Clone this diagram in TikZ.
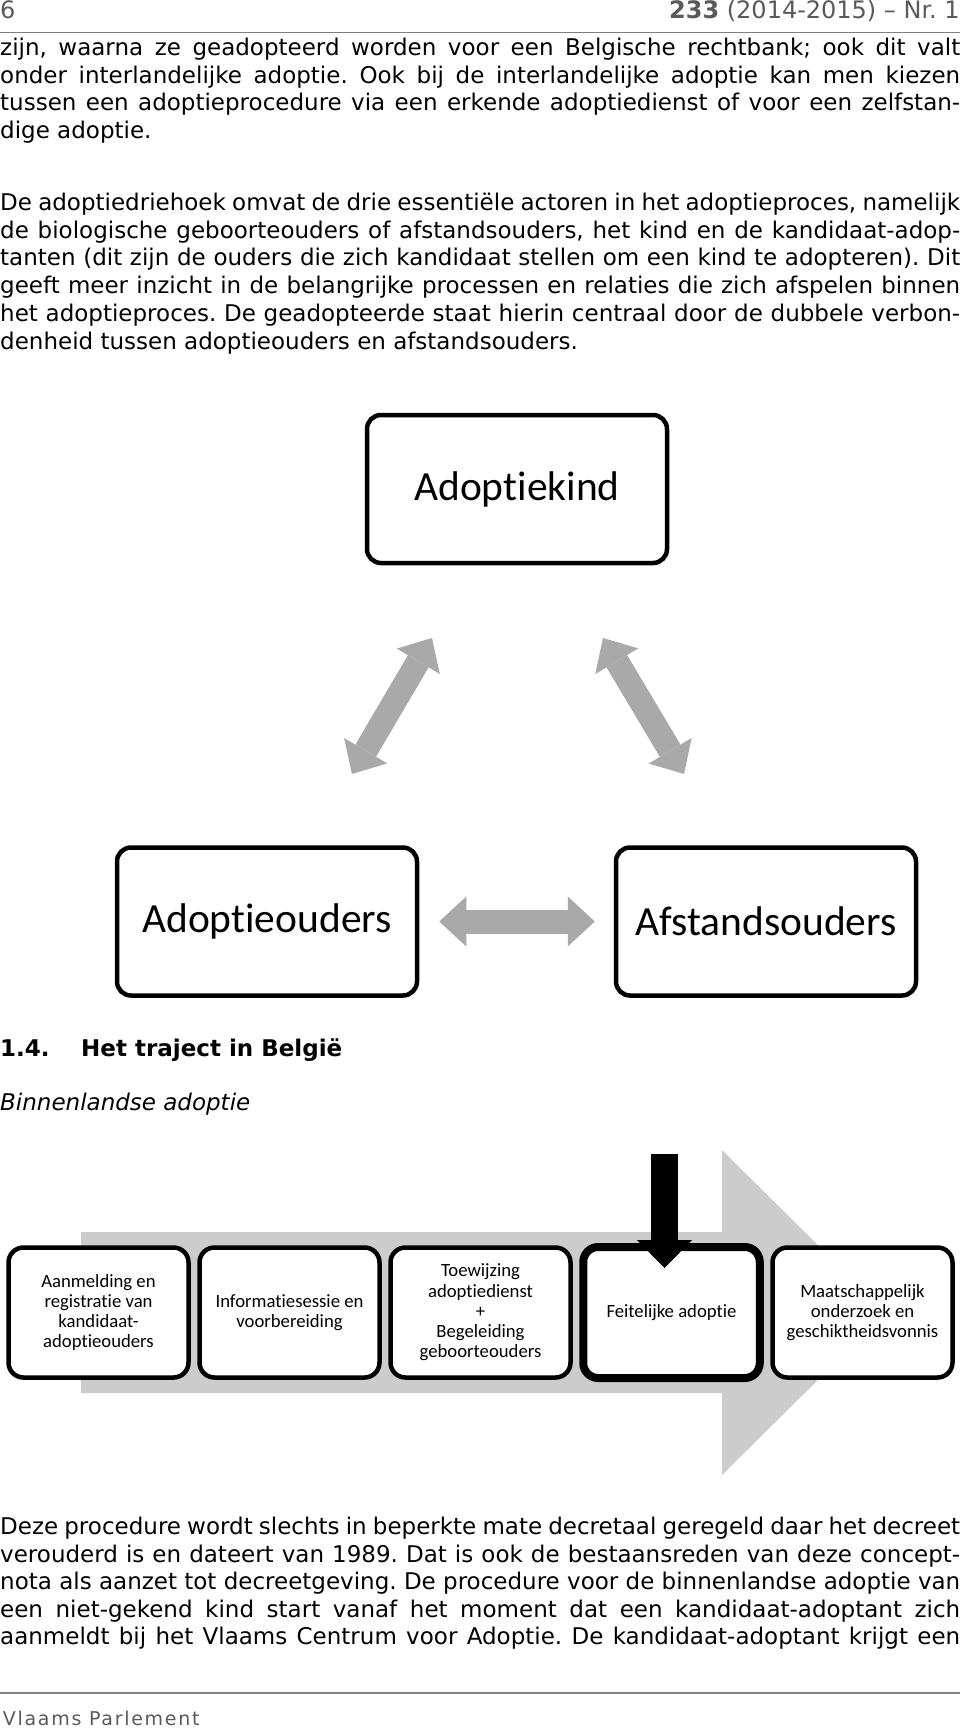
\documentclass[tikz,border=0pt]{standalone}
\usepackage{fontspec}
\setmainfont{DejaVu Sans}
\newfontfamily\carlito[Ligatures={NoCommon}]{Carlito}
\newfontfamily\footfont[LetterSpace=9]{DejaVu Sans}
\usepackage{tikz}
\usetikzlibrary{arrows.meta,calc}
\frenchspacing

\definecolor{headgray}{HTML}{5A5A5A}
\definecolor{rulegray}{HTML}{7F7F7F}
\definecolor{linkgray}{HTML}{A9A9A9}
\definecolor{flowgray}{HTML}{CCCCCC}

\newcommand\bodyfont{\fontsize{23}{27.6}\selectfont}
\newcommand\jline[1]{{\spaceskip=.318em plus .9em minus .12em\makebox[960pt][s]{#1}}}

\tikzset{
  txt/.style={anchor=mid west, inner sep=0pt, font=\bodyfont},
  actor/.style={draw, line width=4.5pt, rounded corners=14pt, fill=white,
    minimum width=300pt, minimum height=148pt,
    font=\carlito\fontsize{41.5}{50}\selectfont},
  stepbox/.style={draw, line width=4.5pt, rounded corners=15pt, fill=white,
    minimum width=180pt, minimum height=130pt, inner sep=2pt, align=center,
    font=\carlito\fontsize{18.7}{20.3}\selectfont},
  twoway/.style={linkgray, line width=24pt,
    {Triangle[length=27pt,width=50pt,line width=0pt]}-{Triangle[length=27pt,width=50pt,line width=0pt]}}
}

\begin{document}
\begin{tikzpicture}[x=1pt, y=-1pt]
    \path[fill=white] (0,0) rectangle (960,1729);
    \useasboundingbox (0,0) rectangle (960,1729);

    % Header
    \node[anchor=base west, inner sep=0pt, headgray, font=\fontsize{24}{28}\selectfont] (pagenr) at (0,18) {6};
    \node[anchor=base east, inner sep=0pt, headgray, font=\fontsize{24}{28}\selectfont] (docnr) at (960,18) {\textbf{233} (2014-2015) -- Nr. 1};
    \draw[rulegray, line width=1.5pt] (0,32.7) -- (960,32.7);

    % First paragraph
    \node[txt] (pa1) at (0,53) {\jline{zijn, waarna ze geadopteerd worden voor een Belgische rechtbank; ook dit valt}};
    \node[txt] (pa2) at (0,80.6) {\jline{onder interlandelijke adoptie. Ook bij de interlandelijke adoptie kan men kiezen}};
    \node[txt] (pa3) at (0,108.2) {\jline{tussen een adoptieprocedure via een erkende adoptiedienst of voor een zelfstan-}};
    \node[txt] (pa4) at (0,135.8) {dige adoptie.};

    % Second paragraph
    \node[txt] (pb1) at (0,207.5) {\jline{De adoptiedriehoek omvat de drie essentiële actoren in het adoptieproces, namelijk}};
    \node[txt] (pb2) at (0,235.3) {\jline{de biologische geboorteouders of afstandsouders, het kind en de kandidaat-adop-}};
    \node[txt] (pb3) at (0,263.1) {\jline{tanten (dit zijn de ouders die zich kandidaat stellen om een kind te adopteren). Dit}};
    \node[txt] (pb4) at (0,290.9) {\jline{geeft meer inzicht in de belangrijke processen en relaties die zich afspelen binnen}};
    \node[txt] (pb5) at (0,318.7) {\jline{het adoptieproces. De geadopteerde staat hierin centraal door de dubbele verbon-}};
    \node[txt] (pb6) at (0,346.5) {denheid tussen adoptieouders en afstandsouders.};

    % Adoption triangle
    \node[actor] (kind) at (517,489) {Adoptiekind};
    \node[actor] (ouders) at (267,921.5) {Adoptieouders};
    \node[actor] (afstand) at (766,921.5) {Afstandsouders};

    \draw[twoway, shorten <=20pt, shorten >=19pt] (ouders.east) -- (afstand.west);
    \draw[twoway, shorten <=82.7pt, shorten >=84.4pt] ([xshift=43pt]ouders.north) -- ([xshift=-42.2pt]kind.south);
    \draw[twoway, shorten <=84.7pt, shorten >=83pt] ([xshift=42.6pt]kind.south) -- ([xshift=-39.5pt]afstand.north);

    % Section heading
    \node[txt, font=\bodyfont\bfseries] (secnr) at (0,1054) {1.4.};
    \node[txt, font=\bodyfont\bfseries] (sectitle) at (81,1054) {Het traject in België};
    \node[txt, font=\bodyfont\itshape] (subtitle) at (0,1108) {Binnenlandse adoptie};

    % Process arrow
    \fill[flowgray] (81,1232) -- (722,1232) -- (722,1150) -- (886,1312.5) -- (722,1475) -- (722,1393) -- (81,1393) -- cycle;

    \node[stepbox] (meld) at (98.5,1312.5) {Aanmelding en\\registratie van\\kandidaat-\\adoptieouders};
    \node[stepbox] (info) at (289.5,1312.5) {Informatiesessie en\\voorbereiding};
    \node[stepbox] (toew) at (480.5,1312.5) {Toewijzing\\adoptiedienst\\+\\Begeleiding\\geboorteouders};
    \node[stepbox, line width=8pt, minimum width=176.5pt, minimum height=131pt] (feit) at (671.5,1312.5) {Feitelijke adoptie};
    \node[stepbox] (maat) at (862.5,1312.5) {Maatschappelijk\\onderzoek en\\geschiktheidsvonnis};

    \coordinate (droptop) at (664.5,1154);
    \draw[black, line width=27pt, -{Triangle[length=28pt,width=55pt,line width=0pt]}] (droptop) -- ([xshift=-7pt,yshift=-25pt]feit.north);

    % Third paragraph
    \node[txt] (pc1) at (0,1532) {\jline{Deze procedure wordt slechts in beperkte mate decretaal geregeld daar het decreet}};
    \node[txt] (pc2) at (0,1559.5) {\jline{verouderd is en dateert van 1989. Dat is ook de bestaansreden van deze concept-}};
    \node[txt] (pc3) at (0,1587) {\jline{nota als aanzet tot decreetgeving. De procedure voor de binnenlandse adoptie van}};
    \node[txt] (pc4) at (0,1614.5) {\jline{een niet-gekend kind start vanaf het moment dat een kandidaat-adoptant zich}};
    \node[txt] (pc5) at (0,1642) {\jline{aanmeldt bij het Vlaams Centrum voor Adoptie. De kandidaat-adoptant krijgt een}};

    % Footer
    \draw[rulegray, line width=1.5pt] (0,1693) -- (960,1693);
    \node[anchor=base west, inner sep=0pt, headgray, font=\footfont\fontsize{19}{23}\selectfont] (footer) at (2.7,1725.7) {Vlaams Parlement};
\end{tikzpicture}
\end{document}
